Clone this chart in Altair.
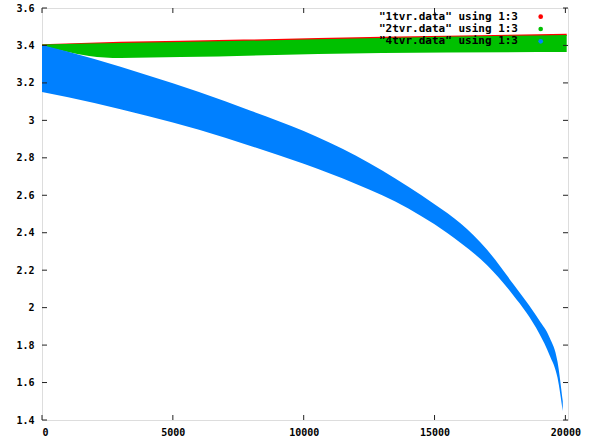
import altair as alt
import pandas as pd

# ---- data ----
x_ticks = [0, 5000, 10000, 15000, 20000]
y_ticks = [1.4, 1.6, 1.8, 2.0, 2.2, 2.4, 2.6, 2.8, 3.0, 3.2, 3.4, 3.6]

# "4tvr.data" (blue band envelope)
blue_x = [0, 2000, 4000, 6000, 8000, 10000, 12000, 14000, 15000, 16000,
          17000, 18000, 18500, 19000, 19400, 19700, 19900]
blue_hi = [3.402, 3.328, 3.242, 3.151, 3.050, 2.943, 2.811, 2.645, 2.552, 2.449,
           2.310, 2.128, 2.034, 1.932, 1.839, 1.711, 1.500]
blue_lo = [3.151, 3.093, 3.025, 2.950, 2.862, 2.768, 2.660, 2.530, 2.445, 2.345,
           2.228, 2.068, 1.975, 1.862, 1.745, 1.625, 1.448]

# "2tvr.data" (green band envelope)
green_x = [0, 1800, 3000, 5300, 13000, 20050]
green_hi = [3.405, 3.410, 3.413, 3.418, 3.440, 3.456]
green_lo = [3.400, 3.344, 3.333, 3.338, 3.360, 3.365]

# "1tvr.data" (red, thin band just above green)
red_hi = [3.406, 3.415, 3.420, 3.425, 3.446, 3.462]
red_lo = [3.398, 3.405, 3.408, 3.413, 3.435, 3.450]

legend_labels = ['"1tvr.data" using 1:3', '"2tvr.data" using 1:3', '"4tvr.data" using 1:3']
legend_colors = ["#ff0000", "#00c000", "#0080ff"]

W, H = 526, 412
FONT = "DejaVu Sans Mono"

xs = alt.Scale(domain=[0, 20100], nice=False, zero=False)
ys = alt.Scale(domain=[1.4, 3.6], nice=False, zero=False)
xaxis = alt.Axis(values=x_ticks, format="d", title=None, ticks=False, domain=False,
                 grid=False, labelPadding=7, labelFont=FONT, labelFontWeight="bold",
                 labelFontSize=10, labelColor="#000")
yaxis = alt.Axis(values=y_ticks, format=".1~f", title=None, ticks=False, domain=False,
                 grid=False, labelPadding=8, labelFont=FONT, labelFontWeight="bold",
                 labelFontSize=10, labelColor="#000")


def X(f):
    return alt.X(f, scale=xs, axis=xaxis)


def Y(f):
    return alt.Y(f, scale=ys, axis=yaxis)


def band(xv, hi, lo, color):
    df = pd.DataFrame({"x": xv, "hi": hi, "lo": lo})
    return alt.Chart(df).mark_area(color=color, opacity=1, interpolate="monotone").encode(
        x=X("x:Q"), y=Y("hi:Q"), y2="lo:Q")


red = band(green_x, red_hi, red_lo, "#ff0000")
green = band(green_x, green_hi, green_lo, "#00c000")
blue = band(blue_x, blue_hi, blue_lo, "#0080ff")

xt = pd.DataFrame({"t": x_ticks})
yt = pd.DataFrame({"t": y_ticks})
tc = "#222"
ticks_b = alt.Chart(xt).mark_rule(color=tc).encode(x=X("t:Q"), y=alt.value(H), y2=alt.value(H - 5))
ticks_t = alt.Chart(xt).mark_rule(color=tc).encode(x=X("t:Q"), y=alt.value(0), y2=alt.value(5))
ticks_l = alt.Chart(yt).mark_rule(color=tc).encode(y=Y("t:Q"), x=alt.value(0), x2=alt.value(5))
ticks_r = alt.Chart(yt).mark_rule(color=tc).encode(y=Y("t:Q"), x=alt.value(W), x2=alt.value(W - 5))

layers = [red, green, blue, ticks_b, ticks_t, ticks_l, ticks_r]

rows_y = [8.7, 21, 33.3]
for lab, col, ry in zip(legend_labels, legend_colors, rows_y):
    d = pd.DataFrame({"label": [lab]})
    layers.append(alt.Chart(d).mark_text(align="right", baseline="middle", font=FONT,
                                         fontWeight="bold", fontSize=11, color="#000").encode(
        text="label:N", x=alt.value(476), y=alt.value(ry)))
    layers.append(alt.Chart(d).mark_point(filled=True, shape="circle", size=22, color=col,
                                          opacity=1).encode(
        x=alt.value(498.7), y=alt.value(ry)))

chart = alt.layer(*layers).properties(
    width=W, height=H,
    padding={"left": 42, "top": 8, "right": 27, "bottom": 23},
    autosize=alt.AutoSizeParams(type="none"),
).configure_view(stroke="#222", strokeWidth=1).configure(background="white")

chart.save("out.html", embed_options={"renderer": "svg", "actions": False})
